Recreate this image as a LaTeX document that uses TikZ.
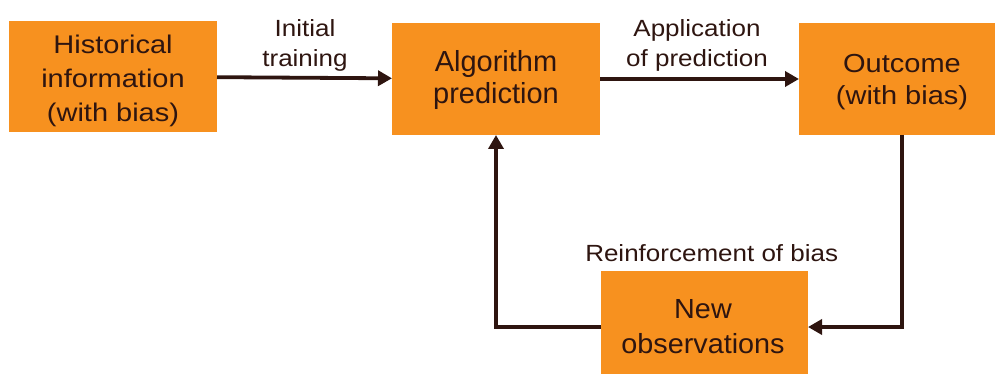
\documentclass[tikz,border=0pt]{standalone}
\usepackage{fontspec}
\setmainfont{Liberation Sans}
\usetikzlibrary{arrows.meta}
\definecolor{boxorange}{HTML}{F7911F}
\definecolor{ink}{HTML}{2E1510}
% centred lines of text: size, line skip, vertical scale, lines
\newcommand{\boxlines}[4]{%
  \scalebox{1}[#3]{\fontsize{#1}{#2}\selectfont\begin{tabular}[t]{@{}c@{}}#4\end{tabular}}}
\begin{document}
\begin{tikzpicture}[x=1pt,y=-1pt,
  box/.style={fill=boxorange, inner sep=0pt, outer sep=0pt},
  lbl/.style={anchor=base, inner sep=0pt, outer sep=0pt, text=ink},
  arr/.style={draw=ink, line width=3.8pt, -{Triangle[length=14pt,width=15pt]}}]
\useasboundingbox (0,0) rectangle (995,374);

% boxes
\node[box, minimum width=208pt, minimum height=111pt] (hist) at (113,76.5) {};
\node[box, minimum width=208pt, minimum height=112pt] (algo) at (496,79) {};
\node[box, minimum width=196pt, minimum height=112pt] (outc) at (897,79) {};
\node[box, minimum width=207pt, minimum height=103pt] (newo) at (704.5,322.5) {};

% box texts
\node[lbl] (histtxt) at (113,53.3) {\boxlines{29}{39}{0.88}{Historical\\information\\(with bias)}};
\node[lbl] (algotxt) at (496,71.7) {\boxlines{29}{31.6}{1}{Algorithm\\prediction}};
\node[lbl] (outctxt) at (902,73) {\boxlines{29}{35.5}{0.9}{Outcome\\(with bias)}};
\node[lbl] (newotxt) at (703,318) {\boxlines{28.8}{36.5}{0.96}{New\\observations}};

% connector labels
\node[lbl] (ltrain) at (305,36.7) {\boxlines{26}{33}{0.9}{Initial\\training}};
\node[lbl] (lapply) at (697,36.7) {\boxlines{26}{33}{0.9}{Application\\of prediction}};
\node[lbl] (lreinf) at (711.7,261.7) {\boxlines{26}{33}{0.9}{Reinforcement of bias}};

% feedback loop corners
\coordinate (loopR) at (902,327);
\coordinate (loopL) at (496,327);

% connectors
\draw[arr] (hist) -- (algo);
\draw[arr] (algo) -- (outc);
\draw[arr] (outc.south -| loopR) -- (loopR) -- (loopR -| newo.east);
\draw[arr] (newo.west |- loopL) -- (loopL) -- (loopL |- algo.south);
\end{tikzpicture}
\end{document}
